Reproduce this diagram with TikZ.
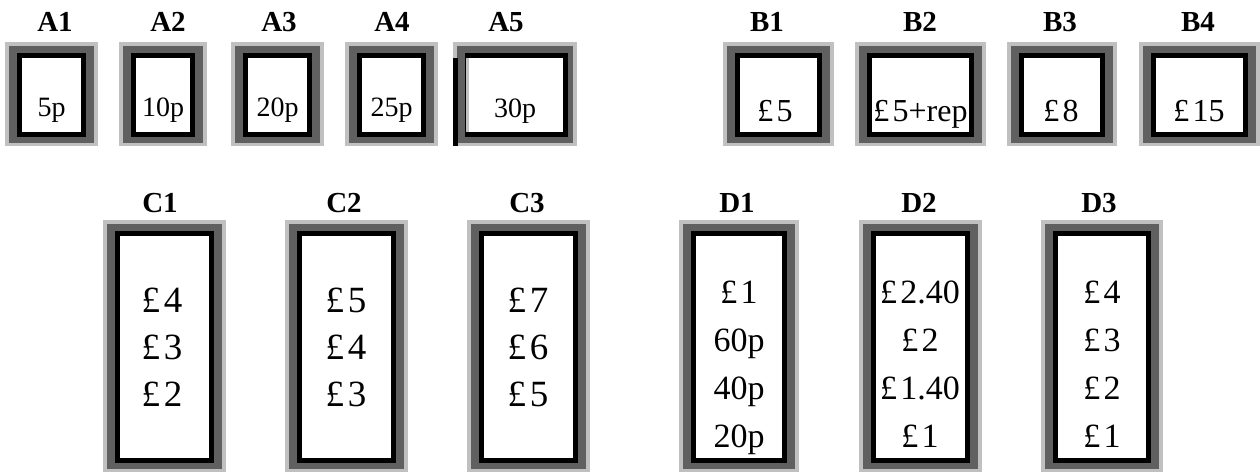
\documentclass[tikz,border=0pt]{standalone}
\usepackage{fontspec}
\setmainfont{Liberation Serif}
\definecolor{lg}{HTML}{C0C0C0}
\definecolor{dg}{HTML}{606060}
\newcommand\pd{£\kern0.1em}
\newcommand\coinframe[5]{% name, x0, x1, y0, y1
  \fill[lg] (#2,#4) rectangle (#3,#5);
  \fill[dg] ({#2+4},{#4+4}) rectangle ({#3-4},{#5-3});
  \fill[black] ({#2+12},{#4+11}) rectangle ({#3-12},{#5-9});
  \fill[white] ({#2+17},{#4+16}) rectangle ({#3-17},{#5-14});
  \coordinate (#1) at ({(#2+#3)/2},{(#4+#5)/2});
}
\tikzset{
  lab/.style={font=\fontsize{29bp}{33bp}\selectfont\bfseries, anchor=base, inner sep=0pt},
  ta/.style={font=\fontsize{28bp}{32bp}\selectfont, anchor=base, inner sep=0pt},
  tb/.style={font=\fontsize{32bp}{36bp}\selectfont, anchor=base, inner sep=0pt},
  tc/.style={font=\fontsize{37bp}{42bp}\selectfont, anchor=base, inner sep=0pt},
  td/.style={font=\fontsize{34bp}{38bp}\selectfont, anchor=base, inner sep=0pt},
}
\begin{document}
\begin{tikzpicture}[x=1bp,y=-1bp]
\useasboundingbox[fill=white] (0,0) rectangle (1260,472);
% ---- A row
\coinframe{fa1}{5}{98}{42}{146}
\coinframe{fa2}{119}{207}{42}{146}
\coinframe{fa3}{231}{324}{42}{146}
\coinframe{fa4}{345}{438}{42}{146}
% A5 (irregular frame)
\fill[lg] (453,42) rectangle (577,146);
\fill[dg] (457,46) rectangle (573,143);
\fill[black] (465,53) rectangle (568,137);
\fill[black] (453,58) rectangle (458,146);
\fill[lg] (466,58) rectangle (469,132);
\fill[white] (469,58) rectangle (563,132);
\coordinate (fa5) at (515,94);
% ---- B row
\coinframe{fb1}{723}{834}{42}{146}
\coinframe{fb2}{855}{986}{42}{146}
\coinframe{fb3}{1007}{1117}{42}{146}
\coinframe{fb4}{1139}{1260}{42}{146}
% ---- C row
\coinframe{fc1}{103}{226}{220}{472}
\coinframe{fc2}{285}{408}{220}{472}
\coinframe{fc3}{467}{590}{220}{472}
% ---- D row
\coinframe{fd1}{679}{799}{220}{472}
\coinframe{fd2}{859}{982}{220}{472}
\coinframe{fd3}{1041}{1163}{220}{472}
% ---- labels
\node[lab] (la1) at (55,32) {A1};
\node[lab] (la2) at (168,32) {A2};
\node[lab] (la3) at (279,32) {A3};
\node[lab] (la4) at (392,32) {A4};
\node[lab] (la5) at (506,32) {A5};
\node[lab] (lb1) at (767,32) {B1};
\node[lab] (lb2) at (920,32) {B2};
\node[lab] (lb3) at (1060,32) {B3};
\node[lab] (lb4) at (1198,32) {B4};
\node[lab] (lc1) at (160,213) {C1};
\node[lab] (lc2) at (344,213) {C2};
\node[lab] (lc3) at (527,213) {C3};
\node[lab] (ld1) at (737,213) {D1};
\node[lab] (ld2) at (919,213) {D2};
\node[lab] (ld3) at (1099,213) {D3};
% ---- A texts
\node[ta] (ta1) at (51.5,117) {5p};
\node[ta] (ta2) at (163,117) {10p};
\node[ta] (ta3) at (277.5,117) {20p};
\node[ta] (ta4) at (391.5,117) {25p};
\node[ta] (ta5) at (515,118) {30p};
% ---- B texts
\node[tb] (tb1) at (775,122) {\pd5};
\node[tb] (tb2) at (920.5,122) {\pd5+rep};
\node[tb] (tb3) at (1061,122) {\pd8};
\node[tb] (tb4) at (1199,122) {\pd15};
% ---- C texts
\node[tc] (tc1a) at (162,313) {\pd4};
\node[tc] (tc1b) at (162,360) {\pd3};
\node[tc] (tc1c) at (162,407) {\pd2};
\node[tc] (tc2a) at (346,313) {\pd5};
\node[tc] (tc2b) at (346,360) {\pd4};
\node[tc] (tc2c) at (346,407) {\pd3};
\node[tc] (tc3a) at (528,313) {\pd7};
\node[tc] (tc3b) at (528,360) {\pd6};
\node[tc] (tc3c) at (528,407) {\pd5};
% ---- D texts
\node[td] (td1a) at (739,304) {\pd1};
\node[td] (td1b) at (739,352) {60p};
\node[td] (td1c) at (739,400) {40p};
\node[td] (td1d) at (739,448) {20p};
\node[td] (td2a) at (920,304) {\pd2.40};
\node[td] (td2b) at (920,352) {\pd2};
\node[td] (td2c) at (920,400) {\pd1.40};
\node[td] (td2d) at (920,448) {\pd1};
\node[td] (td3a) at (1102,304) {\pd4};
\node[td] (td3b) at (1102,352) {\pd3};
\node[td] (td3c) at (1102,400) {\pd2};
\node[td] (td3d) at (1102,448) {\pd1};
\end{tikzpicture}
\end{document}
